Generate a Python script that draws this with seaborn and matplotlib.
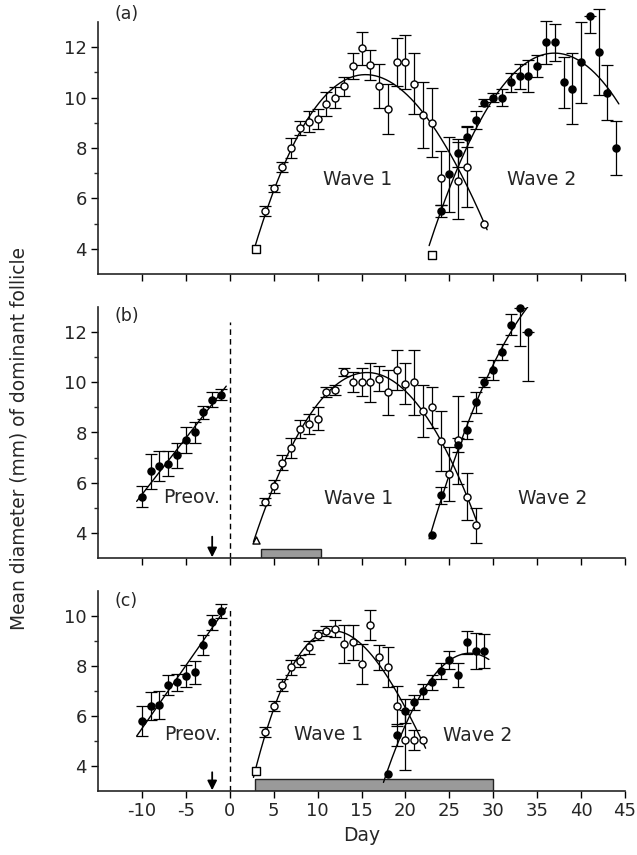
import numpy as np
import matplotlib
matplotlib.use("Agg")
import matplotlib.pyplot as plt
import seaborn as sns

# ---------------- data ----------------
# Panel (a)
a_w1_day = [3, 4, 5, 6, 7, 8, 9, 10, 11, 12, 13, 14, 15, 16, 17, 18, 19, 20, 21, 22, 23, 24, 26, 27, 29]
a_w1_mm = [4.0, 5.5, 6.4, 7.25, 8.0, 8.8, 9.05, 9.15, 9.75, 10.0, 10.45, 11.25, 11.95, 11.3, 10.45,
           9.55, 11.4, 11.4, 10.55, 9.3, 9.0, 6.8, 6.7, 7.25, 5.0]
a_w1_err = [0, 0.19, 0.15, 0.2, 0.4, 0.27, 0.4, 0.4, 0.48, 0.42, 0.38, 0.5, 0.67, 0.6, 0.87,
            1.0, 0.95, 1.07, 1.2, 1.3, 1.37, 1.07, 1.53, 1.6, 0]

a_w2_day = [23, 24, 25, 26, 27, 28, 29, 30, 31, 32, 33, 34, 35, 36, 37, 38, 39, 40, 41, 42, 43, 44]
a_w2_mm = [3.75, 5.5, 6.95, 7.8, 8.45, 9.1, 9.8, 10.0, 10.0, 10.6, 10.85, 10.85, 11.25, 12.2, 12.2,
           10.6, 10.35, 11.4, 13.25, 11.8, 10.2, 8.0]
a_w2_err_lo = [0, 0.25, 1.5, 0.55, 0.43, 0.35, 0.15, 0.17, 0.33, 0.37, 0.5, 0.63, 0.43, 0.85, 0.73,
               1.0, 1.4, 1.6, 0.7, 1.7, 1.1, 1.07]
a_w2_err_hi = [0, 0.25, 1.5, 0.55, 0.43, 0.35, 0.15, 0.17, 0.33, 0.37, 0.5, 0.63, 0.43, 0.85, 0.73,
               1.0, 1.4, 1.6, 0.0, 1.7, 1.1, 1.07]

# Panel (b)
b_pre_day = [-10, -9, -8, -7, -6, -5, -4, -3, -2, -1]
b_pre_mm = [5.45, 6.45, 6.65, 6.75, 7.1, 7.7, 8.0, 8.8, 9.3, 9.5]
b_pre_err = [0.4, 0.7, 0.6, 0.5, 0.5, 0.5, 0.4, 0.27, 0.3, 0.22]

b_w1_day = list(range(3, 29))
b_w1_mm = [3.7, 5.25, 5.85, 6.8, 7.4, 8.15, 8.35, 8.55, 9.6, 9.7, 10.4, 10.0, 10.0, 10.0, 10.15,
           9.6, 10.5, 9.95, 10.0, 8.85, 9.0, 7.65, 6.35, 7.7, 5.45, 4.3]
b_w1_err = [0, 0.15, 0.25, 0.3, 0.4, 0.35, 0.4, 0.45, 0.2, 0.2, 0.15, 0.4, 0.55, 0.77, 0.5,
            0.9, 0.8, 0.8, 1.3, 1.03, 0.83, 1.2, 1.07, 1.77, 0.93, 0.7]

b_w2_day = [23, 24, 26, 27, 28, 29, 30, 31, 32, 33, 34]
b_w2_mm = [3.9, 5.5, 7.5, 8.1, 9.2, 10.0, 10.5, 11.2, 12.3, 12.95, 12.0]
b_w2_err_lo = [0, 0.33, 0.27, 0.37, 0.43, 0.2, 0.4, 0.33, 0.42, 1.5, 1.95]
b_w2_err_hi = [0, 0.33, 0.27, 0.37, 0.43, 0.2, 0.4, 0.33, 0.42, 0.0, 0.0]

# Panel (c)
c_pre_day = [-10, -9, -8, -7, -6, -5, -4, -3, -2, -1]
c_pre_mm = [5.8, 6.4, 6.45, 7.25, 7.35, 7.6, 7.75, 8.85, 9.75, 10.2]
c_pre_err = [0.6, 0.55, 0.55, 0.4, 0.35, 0.45, 0.45, 0.4, 0.3, 0.27]

c_w1_day = list(range(3, 23))
c_w1_mm = [3.8, 5.35, 6.4, 7.25, 7.95, 8.2, 8.75, 9.25, 9.4, 9.5, 8.9, 8.95, 8.1, 9.65, 8.35,
           7.95, 6.4, 5.05, 5.05, 5.05]
c_w1_err = [0, 0.2, 0.2, 0.25, 0.3, 0.25, 0.25, 0.2, 0.2, 0.33, 0.76, 0.7, 0.8, 0.6, 0.5,
            0.8, 0.8, 1.2, 0.4, 0]

c_w2_day = [18, 19, 20, 21, 22, 23, 24, 25, 26, 27, 28, 29]
c_w2_mm = [3.7, 5.25, 6.2, 6.55, 7.0, 7.35, 7.8, 8.25, 7.65, 8.95, 8.6, 8.6]
c_w2_err = [0, 0.43, 0.47, 0.3, 0.3, 0.3, 0.33, 0.37, 0.47, 0.45, 0.72, 0.67]

# treatment periods (grey bars): start day, end day
b_treat = [3.6, 10.4]
c_treat = [2.9, 30.0]

x_ticks = [-10, -5, 0, 5, 10, 15, 20, 25, 30, 35, 40, 45]
panel_names = ["(a)", "(b)", "(c)"]

# ---------------- style ----------------
sns.set_style("ticks")
plt.rcParams["font.family"] = ["DejaVu Sans"]
plt.rcParams["axes.unicode_minus"] = False
plt.rcParams["axes.linewidth"] = 1.2

fig = plt.figure(figsize=(6.37, 8.55), dpi=100)
W = 637.0
H = 855.0
left = 98 / W
width = (625 - 98) / W
ax_a = fig.add_axes([left, 1 - 274 / H, width, 252 / H])
ax_b = fig.add_axes([left, 1 - 558 / H, width, 251 / H])
ax_c = fig.add_axes([left, 1 - 791 / H, width, 200 / H])

FS = 13.5


def series(ax, day, mm, err_lo, err_hi, filled, first=None, order=2, pad=0.3, floor=0.2):
    day = np.asarray(day, float)
    mm = np.asarray(mm, float)
    lo = np.asarray(err_lo, float)
    hi = np.asarray(err_hi, float)
    # weighted polynomial fit of the means (weights = 1 / SEM)
    sigma = np.maximum(np.maximum(lo, hi), floor)
    coef = np.polyfit(day, mm, order, w=1.0 / sigma)
    grid = np.linspace(day.min() - pad, day.max() + pad, 200)
    sns.lineplot(x=grid, y=np.polyval(coef, grid), color="black", lw=1.0, zorder=2, ax=ax)
    # error bars
    m = (lo + hi) > 0
    ax.errorbar(day[m], mm[m], yerr=[lo[m], hi[m]], fmt="none", ecolor="black",
                elinewidth=0.9, capsize=4, capthick=0.9, zorder=3, clip_on=False)
    # markers
    start = 0
    if first is not None:
        sns.scatterplot(x=day[:1], y=mm[:1], marker=first, s=26, facecolor="white",
                        edgecolor="black", linewidth=1.0, zorder=4, ax=ax, clip_on=False)
        start = 1
    sns.scatterplot(x=day[start:], y=mm[start:], marker="o", s=26,
                    facecolor="black" if filled else "white",
                    edgecolor="black", linewidth=1.0, zorder=4, ax=ax, clip_on=False)


# Panel (a)
series(ax_a, a_w1_day, a_w1_mm, a_w1_err, a_w1_err, False, first="s", order=3)
series(ax_a, a_w2_day, a_w2_mm, a_w2_err_lo, a_w2_err_hi, True, first="s", order=2, floor=0.5)

# Panel (b)
series(ax_b, b_pre_day, b_pre_mm, b_pre_err, b_pre_err, True, order=1, pad=0.6)
series(ax_b, b_w1_day, b_w1_mm, b_w1_err, b_w1_err, False, first="^", order=3)
series(ax_b, b_w2_day, b_w2_mm, b_w2_err_lo, b_w2_err_hi, True, order=2, floor=0.5)

# Panel (c)
series(ax_c, c_pre_day, c_pre_mm, c_pre_err, c_pre_err, True, order=1, pad=0.6)
series(ax_c, c_w1_day, c_w1_mm, c_w1_err, c_w1_err, False, first="s", order=3)
series(ax_c, c_w2_day, c_w2_mm, c_w2_err, c_w2_err, True, order=2, pad=0.5)

# treatment bars
ax_b.barh(y=3.0, width=b_treat[1] - b_treat[0], left=b_treat[0], height=0.35, align="edge",
          color="#9a9a9a", edgecolor="#222222", linewidth=1.0, zorder=1)
ax_c.barh(y=3.0, width=c_treat[1] - c_treat[0], left=c_treat[0], height=0.5, align="edge",
          color="#9a9a9a", edgecolor="#222222", linewidth=1.0, zorder=1)

# dashed line at day 0 and arrows (ovulation)
ax_b.vlines(0, 3.0, 12.4, colors="black", linestyles=(0, (4, 3)), lw=1.0, zorder=1)
ax_c.vlines(0, 3.0, 10.3, colors="black", linestyles=(0, (4, 3)), lw=1.0, zorder=1)
for ax, top in ((ax_b, 3.85), (ax_c, 3.75)):
    ax.annotate("", xy=(-2, 3.03), xytext=(-2, top),
                arrowprops=dict(arrowstyle="-|>", color="black", lw=1.3,
                                mutation_scale=14, shrinkA=0, shrinkB=0))

# texts
ax_a.text(14.6, 6.76, "Wave 1", fontsize=FS, ha="center", va="center")
ax_a.text(35.5, 6.76, "Wave 2", fontsize=FS, ha="center", va="center")
ax_b.text(-4.3, 5.41, "Preov.", fontsize=FS, ha="center", va="center")
ax_b.text(14.7, 5.36, "Wave 1", fontsize=FS, ha="center", va="center")
ax_b.text(36.8, 5.36, "Wave 2", fontsize=FS, ha="center", va="center")
ax_c.text(-4.2, 5.27, "Preov.", fontsize=FS, ha="center", va="center")
ax_c.text(11.3, 5.27, "Wave 1", fontsize=FS, ha="center", va="center")
ax_c.text(28.2, 5.24, "Wave 2", fontsize=FS, ha="center", va="center")

for ax, name, ytop, (ylo, yhi), majors, minors in (
        (ax_a, panel_names[0], 13.33, (3, 13), [4, 6, 8, 10, 12], [5, 7, 9, 11]),
        (ax_b, panel_names[1], 12.64, (3, 13), [4, 6, 8, 10, 12], [5, 7, 9, 11]),
        (ax_c, panel_names[2], 10.6, (3, 11), [4, 6, 8, 10], [5, 7, 9])):
    ax.set_xlim(-15, 45)
    ax.set_ylim(ylo, yhi)
    ax.set_xticks(x_ticks)
    ax.set_yticks(majors)
    ax.set_yticks(minors, minor=True)
    ax.tick_params(axis="both", which="major", direction="out", length=5, width=1.0,
                   labelsize=13, pad=3, color="black")
    ax.tick_params(axis="y", which="minor", direction="out", length=3, width=1.0)
    ax.set_xlabel("")
    ax.set_ylabel("")
    sns.despine(ax=ax)
    ax.text(-13.1, ytop, name, fontsize=12.5, ha="left", va="center", clip_on=False)
    ax.patch.set_alpha(0)

ax_a.tick_params(axis="x", labelbottom=False)
ax_b.tick_params(axis="x", labelbottom=False)
ax_c.set_xlabel("Day", fontsize=FS, labelpad=4)

fig.text(0.03, 1 - 438 / H, "Mean diameter (mm) of dominant follicle", rotation=90,
         fontsize=13.4, ha="center", va="center")

fig.savefig("out.png", dpi=100, facecolor="white")
